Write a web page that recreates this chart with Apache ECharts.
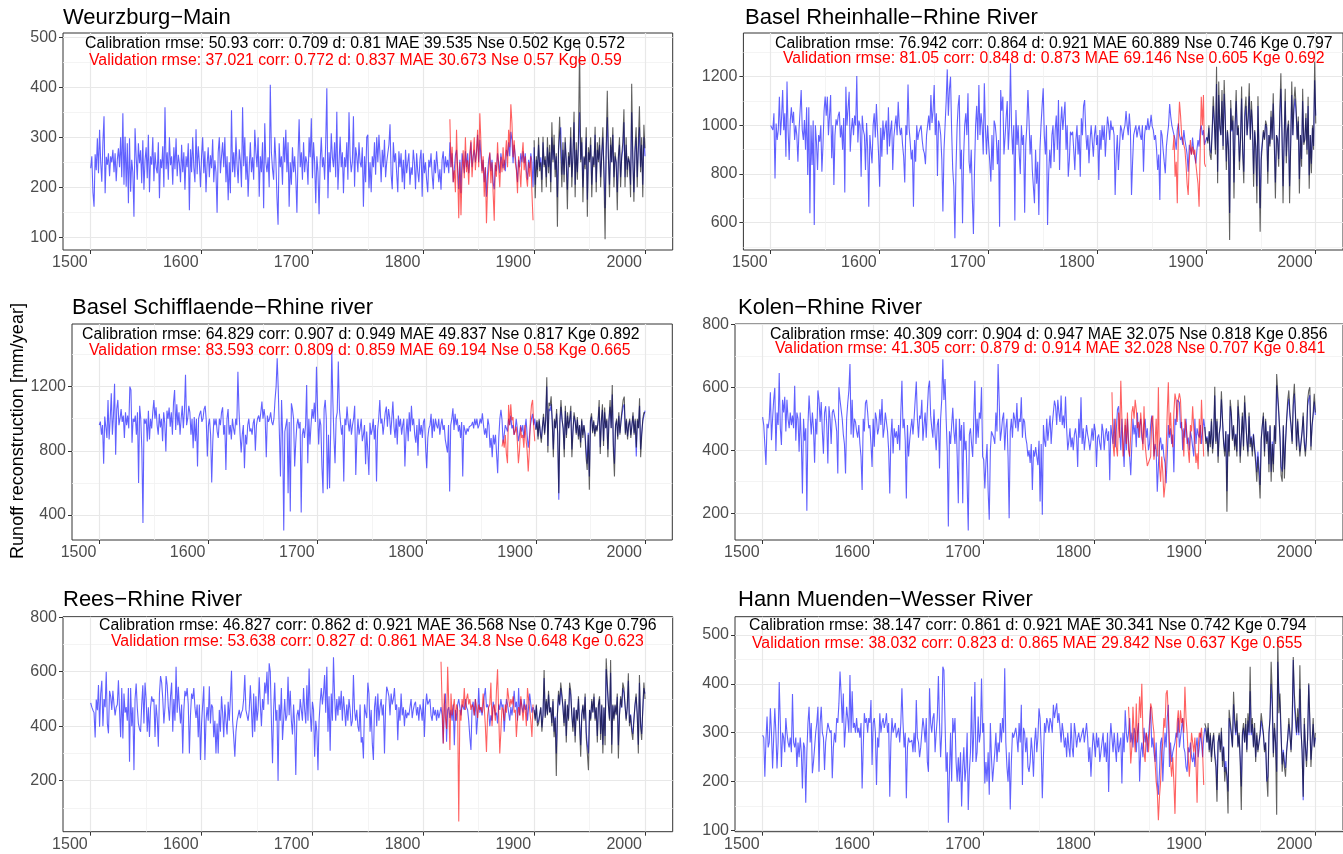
<!DOCTYPE html>
<html><head><meta charset="utf-8">
<script src="https://cdn.jsdelivr.net/npm/echarts@6/dist/echarts.min.js"></script>
<style>html,body{margin:0;padding:0;background:#fff}#c{width:1343px;height:854px}</style>
</head><body><div id="c"></div>
<script>
// ---------------- DATA ----------------
const xMajor = [1500,1600,1700,1800,1900,2000];
const xMinor = [1550,1650,1750,1850,1950];
const titles = ['Weurzburg−Main','Basel Rheinhalle−Rhine River','Basel Schifflaende−Rhine river','Kolen−Rhine River','Rees−Rhine River','Hann Muenden−Wesser River'];
const calText = [
 'Calibration rmse: 50.93 corr: 0.709 d: 0.81 MAE 39.535 Nse 0.502 Kge 0.572',
 'Calibration rmse: 76.942 corr: 0.864 d: 0.921 MAE 60.889 Nse 0.746 Kge 0.797',
 'Calibration rmse: 64.829 corr: 0.907 d: 0.949 MAE 49.837 Nse 0.817 Kge 0.892',
 'Calibration rmse: 40.309 corr: 0.904 d: 0.947 MAE 32.075 Nse 0.818 Kge 0.856',
 'Calibration rmse: 46.827 corr: 0.862 d: 0.921 MAE 36.568 Nse 0.743 Kge 0.796',
 'Calibration rmse: 38.147 corr: 0.861 d: 0.921 MAE 30.341 Nse 0.742 Kge 0.794'];
const valText = [
 'Validation rmse: 37.021 corr: 0.772 d: 0.837 MAE 30.673 Nse 0.57 Kge 0.59',
 'Validation rmse: 81.05 corr: 0.848 d: 0.873 MAE 69.146 Nse 0.605 Kge 0.692',
 'Validation rmse: 83.593 corr: 0.809 d: 0.859 MAE 69.194 Nse 0.58 Kge 0.665',
 'Validation rmse: 41.305 corr: 0.879 d: 0.914 MAE 32.028 Nse 0.707 Kge 0.841',
 'Validation rmse: 53.638 corr: 0.827 d: 0.861 MAE 34.8 Nse 0.648 Kge 0.623',
 'Validation rmse: 38.032 corr: 0.823 d: 0.865 MAE 29.842 Nse 0.637 Kge 0.655'];
const yMajor = [[100,200,300,400,500],[600,800,1000,1200],[400,800,1200],[200,400,600,800],[200,400,600,800],[100,200,300,400,500]];
const yMinor = [[150,250,350,450],[500,700,900,1100,1300],[600,1000,1400],[300,500,700],[100,300,500,700],[150,250,350,450]];
const redStart = [1824,1869,1869,1816,1816,1831];

// Panel 1 Weurzburg
const p1BlueA = [238,262,190,161,266,234,298,228,315,250, 211,290,342,188,261,245,268,222,262,250, 275,230,268,212,255,278,240,300,220,348, 205,301,201,288,168,298,191,255,230,141, 318,261,215,288,248,274,208,294,195,254, 280,218,305,190,262,245,300,212,270,240, 228,290,178,256,238,282,200,360,236,270, 215,300,244,262,205,280,236,298,222,265, 248,210,285,230,270,195,262,240,288,154, 276,230,300,240,210,316,226,282,250,200, 262,300,228,272,190,246,280,220,264,238, 296,210,254,230,149,270,300,228,262,290, 240,300,210,262,174,250,188,354,230,270, 220,300,246,208,276,252,200,360,242,300, 215,262,181,240,290,230,260,215,315,270, 240,300,181,262,230,290,158,328,250,230, 260,200,405,270,236,215,300,255,180,125, 288,240,262,205,300,250,315,230,290,161, 250,205,280,230,262,220,149,260,336,240, 270,215,290,230,262,250,205,300,260,338, 218,290,250,168,262,230,146,251,300,240, 260,215,290,398,178,270,230,308,260,240, 290,220,351,195,250,301,240,270,188,260, 240,290,215,350,262,230,250,342,201,280, 262,230,290,250,240,280,161,262,210,300];
const p1BlueB = [305,198,250,190,262,240,290,225,300,250, 305,262,210,275,240,295,220,250,268,285, 326,225,196,290,250,268,228,190,272,240, 268,210,255,196,275,228,250,268,205,240, 225,275,250,196,268,232,210,255,275,181, 268,228,250,215,190,255,240,268,225,196, 255,228,272,240,210,236,195,255,272,228, 262,240,255,228,290,240,268,210,236,265, 275,240,196,255,188,268,250,228,272,240, 268,228,255,290,240,262,275,250,270,305, 250,295,262,232,255,210,240,181,228,255, 268,232,255,210,196,245,232,268,250,228, 268,250,238,255,232,275,262,290,262,311, 295,248,285,262,238,210,255,240,268,250, 272,248,268,232,215,255,238,268,250,200];
const p1BlueC = [280,205,255,235,285,240,260,215,290,245, 255,220,280,240,270,210,300,255,285,235, 262,180,270,305,320,225,275,225,290,250, 195,262,245,300,220,260,330,205,275,230, 285,350,255,290,200,260,245,300,175,270, 255,285,205,260,245,305,210,275,255,285, 220,262,300,235,158,270,340,260,205,285, 250,305,220,262,250,190,258,285,220,260, 275,330,220,285,235,258,250,205,350,258, 190,270,300,220,275,320,240,285,205,300, 262];
const p1Red = [336,240,281,210,234,190, 315,230,138,250,144,230,274,218,300,230, 254,205,270,294,220,261,300,234,270,315, 240,348,290,228,262,181,240,128,200,234, 270,208,250,190,133,250,221,290,238,200, 261,230,280,234,262,294,240,315,280,366, 328,260,294,250,234,188,262,234,200,261, 290,234,262,220,201,250,221,262,190,134];
const p1Black = [294,178,262,220,300,232,250,190,301,240, 262,200,300,228,285,190,330,250,305,220, 268,121,280,341,338,200,290,210,300,250, 156,270,240,320,200,265,351,180,290,215, 300,481,250,300,170,262,236,320,141,280, 250,300,180,262,240,321,190,290,250,300, 200,270,320,220,96,280,393,262,180,300, 250,320,200,270,250,154,262,300,200,265, 290,356,200,300,220,262,250,180,407,262, 171,280,320,200,290,362,230,300,180,325, 278];

// Panel 2 Basel Rheinhalle
const p2BlueA = [1000,1001,981,1050,782,1008,940,981,1118,960, 1030,1145,980,1050,871,1180,981,858,1020,1074, 1010,1056,940,1000,960,851,981,1060,1145,981, 940,1022,900,1074,796,1074,639,1000,837,1020, 591,1000,933,817,960,933,1000,810,919,1060, 1118,1040,1118,960,1040,1125,865,1000,755,960, 1025,1000,1040,1056,950,1000,900,1030,724,1159, 1000,1070,1138,892,981,1030,960,1040,1000,1203, 930,1020,1000,789,1040,981,960,817,1010,900, 666,960,900,844,1000,1050,950,1088,980,880, 748,990,871,1020,940,990,1020,880,1074,913, 981,1020,817,950,1000,1040,960,1097,1000,960, 990,920,871,765,1000,960,1168,990,930,860, 900,666,940,851,1000,940,970,985,1000,940, 900,885,840,960,1000,1040,980,1125,1010,1060, 1166,960,1050,792,1020,1000,960,860,646,900, 1000,1100,1230,1040,1150,1200,981,820,750,536, 820,990,1080,1125,820,900,598,870,1000,1050, 960,1132,850,803,900,700,554,820,1000,1080, 940,1166,960,1050,1000,880,1173,990,880,1000, 920,850,769,960,817,1020,1000,950,840,940, 584,1145,1060,1118,880,950,1030,1100,900,1000, 1255,990,880,1000,609,1063,920,1000,880,800, 1000,920,960,641,920,1000,1145,1020,880,960, 817,817,680,900,760,850,632,900,1000,1080];
const p2BlueB = [1152,960,880,1000,591,800,900,824,960,1000, 850,980,1040,900,1104,817,1000,1077,981,1040, 1097,900,1000,789,858,974,960,974,900,817, 940,1000,880,960,789,1029,960,1080,1104,981, 900,960,844,940,1000,995,871,960,1000,919, 960,776,981,900,1000,940,1000,871,960,1036, 1000,940,1020,981,995,960,714,880,960,817, 910,1000,981,940,981,1000,1059,1000,960,1049, 981,714,850,960,981,1000,950,981,1000,960, 940,1000,810,960,1000,981,1029,981,1000,1043, 995,981,940,960,900,817,880,693,981,960, 900,850,803,913,960,1000,1088,1036,1000,1008, 960,940,900,981,1008,960,940,954,920,981, 940,913,880,810,920,913,880,950,900,870, 844,900,940,913,981,1000,960,981,920,913];
const p2BlueC = [952,935,990,900,885,975,1080,1005,900,1170, 810,1125,990,960,1100,915,1130,1020,852,975, 915,640,1070,975,1020,765,990,1100,960,990, 852,945,1110,900,810,1035,1080,960,1020,1120, 945,1065,990,800,975,915,750,1080,885,660, 885,930,975,945,1005,990,810,960,925,1035, 945,1090,930,765,960,945,862,1030,1150,975, 750,945,1100,873,975,1005,750,925,1125,960, 1065,1110,1048,945,1017,780,960,862,1100,930, 945,1030,900,1080,795,960,842,990,915,1185, 1040];
const p2Red = [899, 960,789,850,680,981,1097,1040,960,954,920, 900,840,760,714,850,940,880,913,880,900, 844,800,760,666,900,1118,1000,1125,844,830];
const p2Black = [950,926,1000,880,858,981,1120,1020,880,1241, 762,1180,1000,960,1145,900,1186,1040,817,981, 900,529,1104,980,1040,700,1000,1145,960,1000, 817,940,1160,880,762,1060,1118,960,1040,1173, 940,1100,1000,748,981,900,680,1120,860,563, 858,920,981,940,1020,1001,760,960,913,1060, 940,1132,920,700,960,940,830,1050,1214,981, 680,940,1150,844,981,1020,680,913,1180,960, 1100,1159,1077,940,1036,720,960,830,1150,920, 940,1050,880,1118,740,960,803,1000,900,1262, 1008];

// Panel 3 Basel Schifflaende
const p3BlueA = [961,982,900,960,719,1013,950,880,1117,870, 1000,1159,900,1020,1217,775,1060,1117,960,1000, 1060,980,1020,880,1040,960,1020,940,1200,1180, 850,1000,980,1020,900,1040,599,1080,1000,810, 350,1000,970,1000,858,1050,870,1000,940,1040, 1117,1000,1071,960,900,1030,945,1000,860,1040, 970,796,1050,1000,1070,950,1040,900,1100,1179, 930,1090,960,1040,900,1000,1080,940,1050,1273, 960,1000,1080,1040,900,1000,816,1010,860,1000, 702,1000,1030,1050,980,1000,1060,1080,990,764, 960,1000,900,603,860,1000,960,1000,920,880, 1000,960,1040,1071,900,960,681,1000,1060,900, 960,870,1000,940,900,1000,960,1293,1050,900, 789,900,960,692,900,840,960,1000,920,940, 900,972,1000,800,960,1000,1020,980,1040,1107, 1000,1060,1000,760,1020,980,1000,1040,980,960, 1000,1117,1200,1376,1179,1190,640,1117,900,304, 920,930,1000,536,980,422,1096,1060,1000,702, 850,960,1000,940,980,416,900,940,880,960, 1210,723,1000,840,960,1060,1000,1100,980,1324, 1050,840,1000,960,700,536,1060,1117,1000,560, 900,567,920,1428,1110,880,723,1000,1040,1356, 1060,980,900,960,609,1000,960,1076,980,920, 1000,900,960,1000,1080,650,880,1000,900,940, 1000,860,900,960,717,920,800,650,975,900];
const p3BlueB = [930,1000,870,960,609,930,1000,1117,970,1000, 900,970,1040,1076,950,1060,1010,900,1000,1107, 950,880,1000,840,1020,950,1000,900,960,1000, 702,900,1000,860,1040,920,1080,960,1000,900, 850,960,770,1000,900,960,880,980,1000,820, 692,880,940,960,1030,880,1000,920,1000,960, 940,1000,900,960,1000,930,960,870,880,790, 960,547,960,1000,1065,930,1030,960,1000,920, 960,880,980,640,960,930,900,940,920,950, 940,960,980,940,1000,960,1000,940,960,1000, 970,1034,960,900,940,880,1000,960,820,880, 760,900,840,900,780,661,880,1000,1055,993, 850,900,960,940,920,1000,960,1020,940,960, 900,930,1000,940,860,900,960,920,960,880, 940,1000,900,820,880,960,1000,1030,960,1000];
const p3BlueC = [935,980,890,988,920,875,950,1010,912,988, 1200,830,1062,1048,1092,980,808,988,942,1032, 912,495,980,1075,988,942,808,1048,898,1018, 942,988,1048,808,928,1018,980,912,995,890, 958,852,988,898,958,912,808,720,912,640, 980,1013,920,980,905,958,928,980,1075,822, 980,1055,860,1040,942,988,808,988,1075,942, 1150,838,720,958,988,890,1018,912,980,1032, 1075,1090,912,988,890,958,988,898,958,1018, 912,988,765,988,942,1080,808,912,988,1018, 1050];
const p3Red = [827, 870,820,899,780,723,1086,960,1090,990,1010, 899,920,951,860,723,800,951,880,899,820, 960,870,800,671,800,1000,1086,1117,960,860];
const p3Black = [930,990,870,1000,910,850,950,1030,900,1000, 1258,790,1100,1080,1140,990,760,1000,940,1060, 900,536,990,1117,1000,940,760,1080,880,1040, 940,1000,1080,760,920,1040,990,900,1010,870, 960,820,1000,880,960,900,760,681,900,557, 990,1034,910,990,890,960,920,990,1117,780, 990,1090,830,1070,940,1000,760,1000,1117,940, 1210,800,640,960,1000,870,1040,900,990,1060, 1117,1138,900,1000,870,960,1000,880,960,1040, 900,1000,820,1000,940,1127,760,900,1000,1040, 1034];

// Panel 4 Kolen
const p4BlueA = [505,480,484,353,484,470,500,584,432,500, 560,598,398,520,480,645,470,417,560,520, 570,460,560,500,470,520,480,510,470,605, 430,520,500,395,520,430,263,500,430,470, 208,480,574,510,450,520,470,360,500,450, 590,560,490,553,460,389,520,540,480,358, 540,500,420,520,530,510,490,460,326,600, 560,530,500,450,420,326,500,550,590,674, 450,560,440,500,490,460,440,480,420,380, 274,500,460,550,560,520,470,480,420,347, 500,411,520,500,450,470,530,480,563,440, 470,520,515,460,400,263,440,500,390,470, 440,460,420,480,400,520,621,470,500,430, 247,480,380,430,470,500,450,500,560,618, 500,440,510,500,560,430,480,520,440,530, 600,621,510,470,440,530,450,400,480,500, 342,500,560,689,560,626,500,400,158,460, 420,480,535,460,420,500,380,232,500,430, 480,232,490,400,430,295,145,450,470,420, 379,500,621,420,500,440,520,500,600,380, 370,279,360,420,270,179,400,460,450,440, 420,520,460,674,555,430,460,500,520,400, 470,500,380,184,460,500,440,520,500,470, 550,460,500,490,568,440,500,490,440,420, 380,400,360,420,274,400,380,410,380,353];
const p4BlueB = [430,237,420,195,480,430,411,500,430,470, 510,420,480,520,558,540,480,560,520,490, 574,480,510,470,571,470,400,430,470,410, 440,400,450,470,440,347,500,440,568,420, 470,400,440,480,450,430,400,430,470,430, 484,460,347,440,450,420,400,484,460,400, 450,470,430,460,305,480,484,420,500,410, 470,530,540,460,400,500,420,347,480,400, 500,430,380,321,420,500,450,480,410,520, 440,480,500,440,420,480,500,440,470,400, 420,480,510,470,380,420,400,268,350,420, 440,400,420,380,360,295,380,480,440,470, 420,450,330,500,480,560,563,552,470,490, 400,470,440,500,420,440,400,460,440,410, 380,500,420,470,450,440,480,420,460,500];
const p4BlueC = [471,428,444,396,460,420,492,404,444,574, 428,492,380,452,476,562,492,428,396,460, 270,452,396,540,508,436,476,412,452,396, 540,492,380,444,508,412,552,492,436,396, 508,420,444,396,452,412,380,330,396,348, 290,436,476,508,396,492,428,460,356,476, 332,428,356,476,428,606,600,508,444,348, 332,476,340,428,492,540,564,508,476,428, 540,580,508,412,492,436,396,428,460,508, 428,396,444,540,563,575,412,476,508,555, 512];
const p4Red = [584,420,380,500, 410,380,520,440,621,500,380,440,500,420, 520,400,380,450,520,540,500,560,530,470, 490,440,520,470,400,540,420,380,350,360, 370,380,500,510,370,420,500,380,600,350, 300,380,330,250,290,400,520,616,450,520, 440,410,520,580,560,490,560,581,560,470, 460,380,500,480,440,400,360,480,460,540, 470,420,360,390,340,500,420,560,460,380];
const p4Black = [474,420,440,380,460,410,500,390,440,602, 420,500,360,450,480,587,500,420,380,460, 205,450,380,560,520,430,480,400,450,380, 560,500,360,440,520,400,574,500,430,380, 520,410,440,380,450,400,360,300,380,320, 247,430,480,520,380,500,420,460,330,480, 300,420,330,480,420,642,637,520,440,320, 300,480,310,420,500,560,590,520,480,420, 560,611,520,400,500,430,380,420,460,520, 420,380,440,560,589,600,400,480,520,579, 520];

// Panel 5 Rees
const p5BlueA = [486,470,459,450,359,498,459,551,398,520, 567,400,500,470,600,410,374,530,510,460, 530,480,440,470,480,569,460,360,540,355, 520,450,470,420,540,270,540,400,470,239, 500,557,470,410,390,380,480,550,410,560, 500,380,470,361,470,510,490,500,361,480, 430,325,520,584,560,500,410,470,584,550, 470,420,510,560,380,500,420,618,450,545, 470,410,480,300,460,530,510,540,480,300, 440,520,500,540,470,430,480,360,480,276, 410,480,547,276,420,470,420,547,410,480, 470,360,420,300,410,300,460,380,510,450, 360,480,420,370,490,420,500,604,420,360, 288,380,420,440,460,430,450,460,500,588, 460,440,420,460,550,460,360,520,380,510, 420,460,580,480,400,500,460,560,520,600, 480,631,600,420,264,460,560,420,460,200, 480,420,540,350,420,500,420,440,582,440, 530,420,370,480,400,221,440,460,420,500, 460,420,540,460,410,550,420,612,450,380, 490,460,288,420,380,239,420,490,540,480, 520,588,450,618,380,510,310,520,420,653, 510,420,500,440,510,460,530,420,510,460, 400,480,420,500,460,400,420,588,460,420, 460,400,380,480,340,360,282,480,450,430];
const p5BlueB = [560,520,380,460,337,276,470,510,400,520, 420,470,500,440,480,300,470,545,530,510, 440,520,480,500,540,460,480,349,470,420, 520,440,470,400,460,430,450,440,470,500, 430,460,480,490,440,470,420,480,460,420, 500,361,470,520,480,490,500,440,420,470, 440,460,420,460,430,450,470,440,337,480, 520,343,460,470,430,460,420,480,330,460, 420,480,500,470,440,480,470,460,500,470, 460,420,360,313,470,490,440,500,370,430, 540,450,470,440,470,510,540,470,480,460, 400,440,420,490,470,440,450,410,480,460, 500,470,480,380,450,500,480,480,420,470, 440,480,530,470,490,420,540,440,500,470, 450,500,460,480,420,470,520,480,450,470];
const p5BlueC = [459,428,476,412,420,444,468,396,444,577, 436,492,444,516,452,468,412,492,380,436, 300,444,516,476,540,508,468,412,492,364, 476,428,540,516,444,396,468,364,460,428, 500,412,330,444,476,428,508,380,332,300, 460,428,492,452,508,428,468,364,476,500, 372,476,332,468,364,610,540,476,428,596, 332,476,428,476,444,508,330,444,500,468, 540,524,476,428,468,567,412,444,396,372, 428,476,508,444,332,560,412,372,460,540, 520];
const p5Red = [637,480,337,520, 430,390,618,480,313,520,440,470,500,420, 480,460,50,460,420,500,470,540,460,500, 520,480,500,460,480,470,440,500,470,430, 480,460,470,450,520,470,400,306,440,470, 480,560,400,470,480,420,530,609,450,300, 380,470,460,420,480,450,540,545,470,500, 480,510,450,460,361,430,470,440,510,470, 420,480,460,400,540,500,460,420,361,480];
const p5Black = [459,420,480,400,410,440,470,380,440,606, 430,500,440,530,450,470,400,500,360,430, 217,440,530,480,560,520,470,400,500,340, 480,420,560,530,440,380,470,340,460,420, 510,400,288,440,480,420,520,360,300,239, 460,420,500,450,520,420,470,340,480,510, 350,480,300,470,330,649,560,480,420,643, 300,480,420,480,440,520,282,440,510,470, 560,540,480,420,470,594,400,440,380,350, 420,480,520,440,300,588,400,350,460,560, 500];

// Panel 6 Hann Muenden
const p6BlueA = [295,290,210,285,333,270,280,350,300,227, 290,350,300,227,280,404,320,230,300,290, 260,330,300,280,270,290,260,379,280,270, 290,230,280,250,290,260,186,280,270,157, 260,320,353,280,320,217,240,270,300,320, 353,220,320,353,300,290,224,280,300,320, 310,300,305,207,270,300,280,330,320,360, 425,380,320,380,270,310,353,330,300,418, 300,385,310,320,300,330,300,310,290,320, 186,270,340,320,330,300,330,320,367,234, 320,330,300,193,290,270,340,300,320,330, 310,320,340,300,320,169,280,330,300,310, 320,290,300,310,280,320,391,320,270,300, 166,270,290,280,280,285,260,300,260,367, 290,280,250,270,300,330,310,280,330,240, 220,391,320,300,330,340,260,300,330,416, 320,250,300,435,428,430,220,260,116,220, 300,200,330,300,330,240,200,250,200,260, 149,230,270,200,230,300,142,220,260,374, 240,300,404,240,260,333,280,300,411,300, 320,196,240,200,260,173,320,250,200,230, 260,300,240,280,260,320,280,330,300,432, 280,230,200,260,143,240,300,290,290,310, 290,260,320,280,357,193,310,300,260,290, 230,220,240,290,260,210,280,310,260,290];
const p6BlueB = [350,330,270,166,250,320,300,330,320,300, 330,320,300,357,330,346,360,320,340,310, 280,320,300,270,290,250,300,270,250,320, 270,250,320,300,270,290,300,280,290,300, 310,280,300,320,290,240,270,210,260,300, 280,250,300,270,290,240,260,280,300,250, 280,240,300,179,280,320,290,260,300,270, 240,300,260,260,290,196,300,260,346,300, 280,300,330,280,300,270,310,300,260,300, 320,200,260,280,250,310,280,300,260,290, 320,353,270,290,260,240,280,200,173,220, 280,290,200,260,300,270,330,357,230,280, 240,260,270,280,300,290,330,270,290,310, 330,270,260,230,220,270,260,280,250,240, 260,230,270,290,250,270,300,280,250,290];
const p6BlueC = [310,302,280,310,265,295,250,280,295,258, 242,183,280,295,265,302,242,272,220,242, 210,180,330,332,295,272,358,318,295,325, 272,295,250,190,295,310,280,318,265,325, 295,385,295,318,272,310,250,295,265,280, 295,325,310,295,265,280,200,210,295,330, 400,355,258,310,280,220,445,387,355,295, 235,265,242,228,265,288,318,295,265,310, 449,355,325,295,332,295,390,302,265,162, 318,272,242,288,398,318,245,280,318,272, 290];
const p6Red = [353,300,237,270,353,300,260,360,280, 310,374,330,400,300,260,240,300,290,260, 300,360,350,320,300,240,200,180,121,170, 200,260,280,330,310,380,387,391,280,240, 210,250,200,134,240,320,346,300,346,320, 330,300,394,330,300,250,210,250,300,280, 260,290,240,157,270,300,290,310,260,193];
const p6Black = [319,310,280,320,260,300,240,280,300,250, 230,159,280,300,260,310,230,270,200,230, 210,135,347,350,300,270,384,330,300,340, 270,300,240,142,300,320,280,330,260,340, 300,435,300,330,270,320,240,300,260,280, 300,340,320,300,260,280,210,169,300,330, 445,380,250,320,280,132,496,340,380,300, 220,260,230,210,260,290,330,300,260,320, 455,380,340,300,350,300,438,310,260,169, 330,270,230,290,401,330,230,280,330,270, 300];

// ---------------- LAYOUT ----------------
const layout = [
  {left:63, top:33, width:609.7, height:217, ymin:74.6, ymax:508.6},
  {left:743.4, top:33, width:601.7, height:217, ymin:488, ymax:1379.5},
  {left:72, top:324, width:600.3, height:216, ymin:244.4, ymax:1590},
  {left:735, top:324, width:610.5, height:216, ymin:115, ymax:801},
  {left:63, top:616.7, width:609.7, height:215, ymin:13, ymax:802},
  {left:735, top:616.7, width:610.5, height:215, ymin:97.5, ymax:537.4}
];
const titlePos = [[63,18],[745,18],[72,308],[738,308],[63,600],[738,600]];
const calPos = [[85,44],[775,44],[82,335],[770,334.5],[99,626],[749,626]];
const valPos = [[89,61],[783,59],[89,351],[775,349],[111,642],[752,644]];

const blues = [[p1BlueA,p1BlueB,p1BlueC],[p2BlueA,p2BlueB,p2BlueC],[p3BlueA,p3BlueB,p3BlueC],[p4BlueA,p4BlueB,p4BlueC],[p5BlueA,p5BlueB,p5BlueC],[p6BlueA,p6BlueB,p6BlueC]];
const reds = [p1Red,p2Red,p3Red,p4Red,p5Red,p6Red];
const blacks = [p1Black,p2Black,p3Black,p4Black,p5Black,p6Black];

function seg(arr, start){ return arr.map((v,i)=>[start+i, v]); }

const FONT = '"Liberation Sans", Arial, Helvetica, sans-serif';
const grids=[], xAxes=[], yAxes=[], series=[], graphics=[];
for (let k=0;k<6;k++){
  const L = layout[k];
  grids.push({left:L.left, top:L.top, width:L.width, height:L.height, show:true, borderColor:'#333333', borderWidth:1, backgroundColor:'rgba(0,0,0,0)'});
  xAxes.push({type:'value', gridIndex:k, min:1475, max:2025, position:'bottom',
    axisLine:{show:false},
    axisTick:{show:true, length:4, customValues:xMajor, lineStyle:{color:'#333333', width:1}},
    axisLabel:{show:true, customValues:xMajor, formatter:v=>String(v), color:'#4d4d4d', fontSize:16, fontFamily:FONT, align:'right', margin:5, padding:[0,3,0,0]},
    splitLine:{show:true, lineStyle:{color:'#e8e8e8', width:1.2}}});
  xAxes.push({type:'value', gridIndex:k, min:1475, max:2025, position:'top',
    axisLine:{show:false}, axisTick:{show:false, customValues:xMinor}, axisLabel:{show:false, customValues:xMinor},
    splitLine:{show:true, lineStyle:{color:'#f1f1f1', width:0.8}}});
  yAxes.push({type:'value', gridIndex:k, min:L.ymin, max:L.ymax, position:'left',
    axisLine:{show:false},
    axisTick:{show:true, length:4, customValues:yMajor[k], lineStyle:{color:'#333333', width:1}},
    axisLabel:{show:true, customValues:yMajor[k], formatter:v=>String(v), color:'#4d4d4d', fontSize:16, fontFamily:FONT, margin:6},
    splitLine:{show:true, lineStyle:{color:'#e8e8e8', width:1.2}}});
  yAxes.push({type:'value', gridIndex:k, min:L.ymin, max:L.ymax, position:'right',
    axisLine:{show:false}, axisTick:{show:false, customValues:yMinor[k]}, axisLabel:{show:false, customValues:yMinor[k]},
    splitLine:{show:true, lineStyle:{color:'#f1f1f1', width:0.8}}});
  const b = blues[k];
  const blueData = seg(b[0],1500).concat(seg(b[1],1750), seg(b[2],1900));
  const common = {type:'line', xAxisIndex:2*k, yAxisIndex:2*k, showSymbol:false, symbol:'none', silent:true, animation:false};
  series.push(Object.assign({}, common, {name:'rec'+k, data:blueData, z:2, lineStyle:{color:'rgba(0,0,255,0.62)', width:1.1}}));
  series.push(Object.assign({}, common, {name:'val'+k, data:seg(reds[k], redStart[k]), z:3, lineStyle:{color:'rgba(255,0,0,0.62)', width:1.1}}));
  series.push(Object.assign({}, common, {name:'cal'+k, data:seg(blacks[k],1900), z:4, lineStyle:{color:'rgba(0,0,0,0.62)', width:1.1}}));
  graphics.push({type:'text', z:100, x:titlePos[k][0], y:titlePos[k][1], style:{text:titles[k], fill:'#000', font:'22px '+FONT, textAlign:'left', textVerticalAlign:'middle'}});
  graphics.push({type:'text', z:100, x:calPos[k][0], y:calPos[k][1], style:{text:calText[k], fill:'#000', font:'15.8px '+FONT, textAlign:'left', textVerticalAlign:'middle'}});
  graphics.push({type:'text', z:100, x:valPos[k][0], y:valPos[k][1], style:{text:valText[k], fill:'#ff0000', font:'15.8px '+FONT, textAlign:'left', textVerticalAlign:'middle'}});
}
graphics.push({type:'text', z:100, x:18, y:431, rotation:Math.PI/2, style:{text:'Runoff reconstruction [mm/year]', fill:'#000', font:'18px '+FONT, textAlign:'center', textVerticalAlign:'middle'}});

const chart = echarts.init(document.getElementById('c'), null, {renderer:'canvas'});
chart.setOption({animation:false, backgroundColor:'#ffffff', grid:grids, xAxis:xAxes, yAxis:yAxes, series:series, graphic:{elements:graphics}});
</script></body></html>
